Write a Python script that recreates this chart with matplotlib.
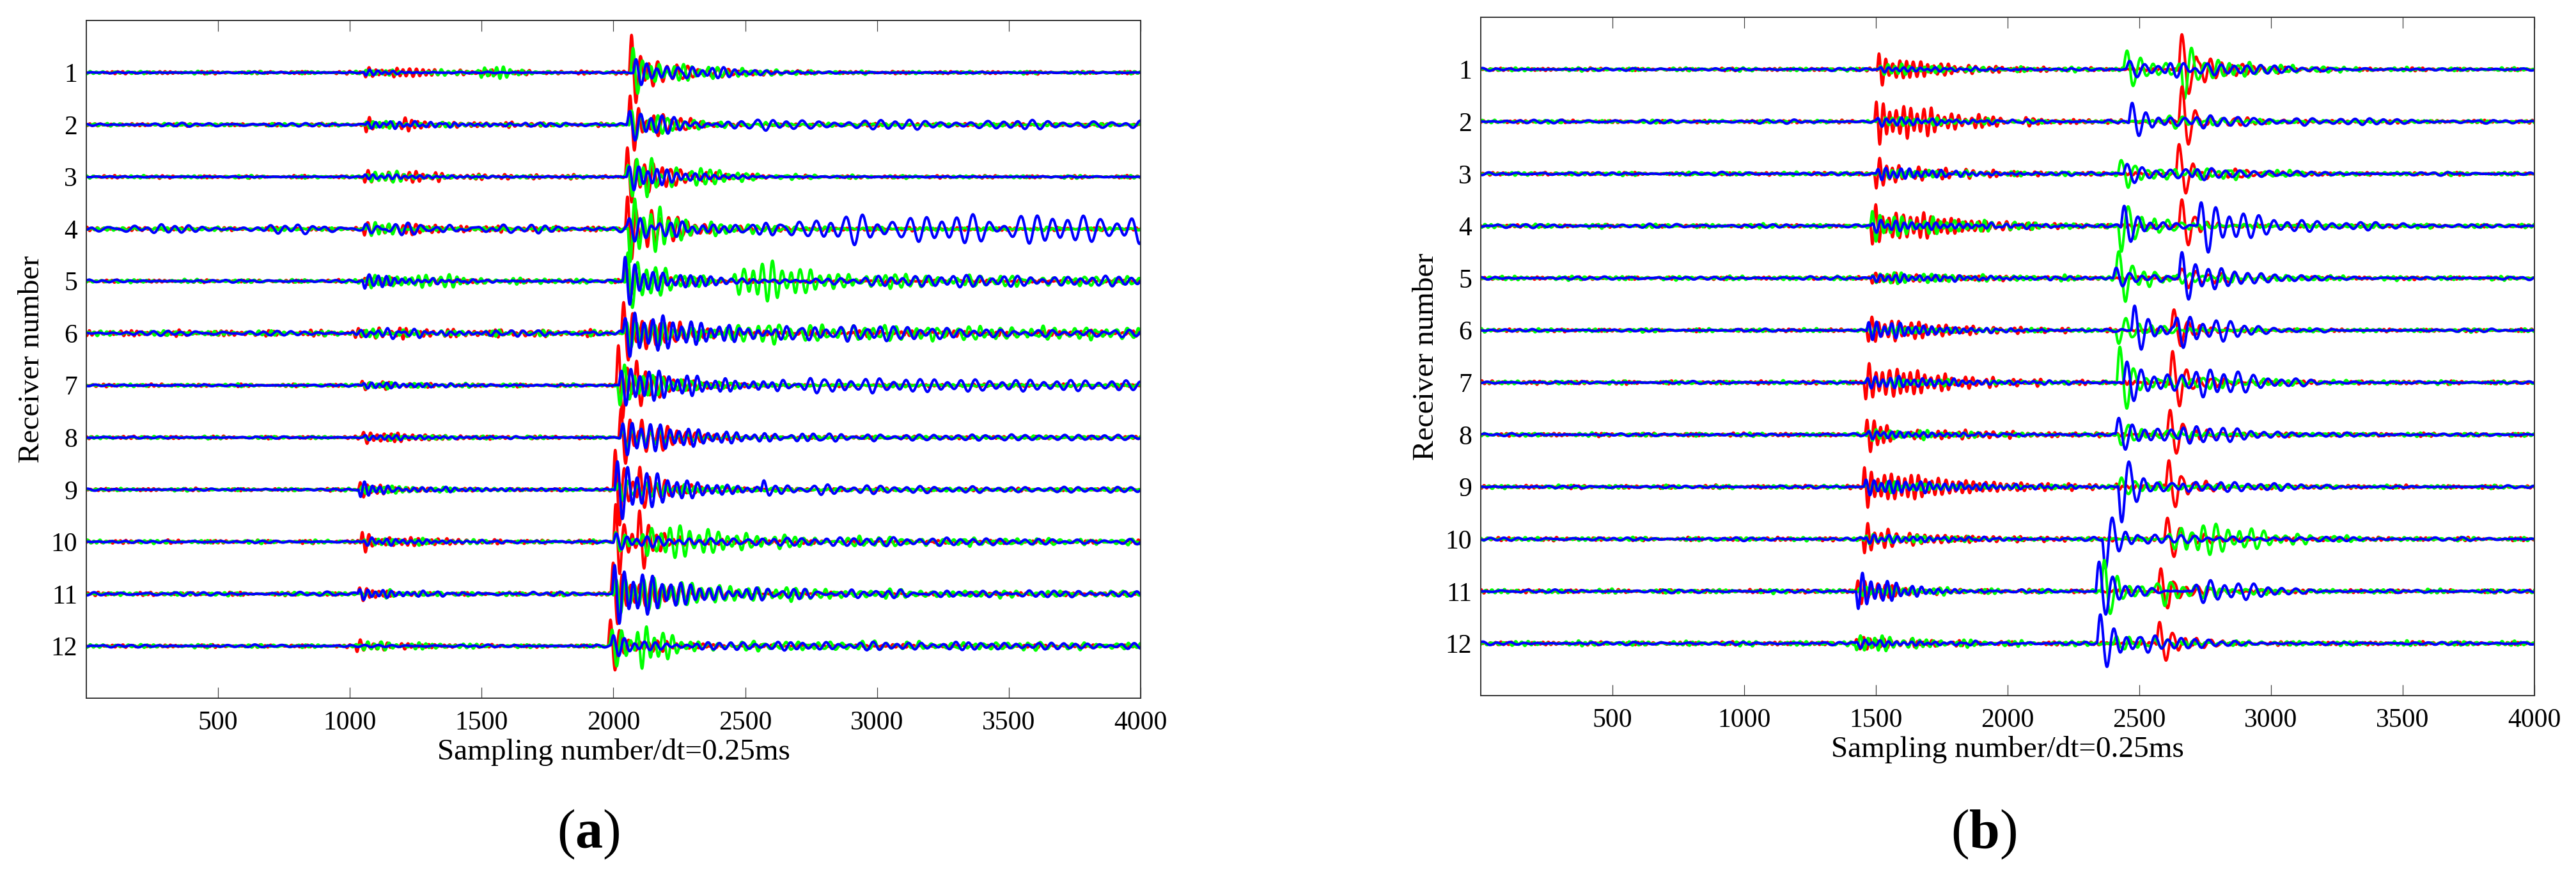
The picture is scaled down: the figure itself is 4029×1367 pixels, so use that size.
#!/usr/bin/env python3
"""
Three-component waveforms of 12 receivers, two shots (a) and (b)
"""

import numpy as np
import matplotlib
matplotlib.use('Agg')
import matplotlib.pyplot as plt

# samples along the record
n_samples = 4000
receivers = list(range(1, 13))
x_ticks = [500, 1000, 1500, 2000, 2500, 3000, 3500, 4000]

# wave events, one list per panel and component
# (receiver, onset sample, first-swing amplitude, period in samples, rise, decay)
a_red = [
    (1, 1053, -0.08, 26, 5, 120), (1, 1150, 0.05, 24, 30, 500), (1, 2060, 0.55, 34, 5, 45), (1, 2120, 0.14, 38, 20, 250),
    (2, 1055, -0.10, 26, 5, 60), (2, 1190, -0.10, 26, 10, 80), (2, 1250, 0.04, 24, 30, 500), (2, 2055, 0.45, 32, 5, 50), (2, 2140, 0.14, 36, 20, 150),
    (3, 1050, -0.10, 26, 5, 150), (3, 1150, 0.05, 24, 20, 600), (3, 2045, 0.45, 32, 5, 60), (3, 2110, 0.18, 34, 20, 180),
    (4, 1050, -0.10, 26, 5, 150), (4, 1150, 0.05, 24, 20, 600), (4, 2045, 0.50, 32, 5, 60), (4, 2100, 0.22, 34, 30, 150),
    (5, 1050, 0.05, 26, 5, 300), (5, 2040, 0.22, 34, 5, 120),
    (6, 1000, 0.06, 26, 30, 600), (6, 2030, 0.47, 34, 5, 60), (6, 2100, 0.18, 36, 20, 200),
    (7, 1040, 0.06, 26, 5, 200), (7, 2010, 0.60, 34, 5, 45), (7, 2080, 0.30, 34, 5, 60), (7, 2150, 0.12, 36, 20, 150),
    (8, 1045, 0.10, 26, 5, 80), (8, 1100, 0.05, 26, 20, 300), (8, 2020, 0.45, 34, 5, 70), (8, 2100, 0.35, 34, 5, 60), (8, 2160, 0.12, 36, 20, 150),
    (9, 1033, 0.12, 26, 5, 100), (9, 1998, 0.60, 34, 5, 60), (9, 2090, 0.30, 34, 5, 60), (9, 2150, 0.12, 34, 20, 150),
    (10, 1040, 0.15, 26, 5, 70), (10, 1150, 0.06, 26, 20, 300), (10, 2000, 0.55, 32, 5, 50), (10, 2090, 0.40, 34, 5, 50), (10, 2150, 0.12, 32, 20, 150),
    (11, 1030, 0.10, 26, 5, 100), (11, 1990, 0.48, 34, 5, 80), (11, 2100, 0.22, 36, 20, 180),
    (12, 1020, -0.08, 26, 5, 200), (12, 1980, 0.40, 34, 5, 70), (12, 2060, 0.15, 34, 20, 120),
]
a_green = [
    (1, 1053, 0.06, 26, 5, 200), (1, 1480, 0.10, 24, 60, 80), (1, 1150, 0.04, 24, 30, 600), (1, 2065, 0.35, 36, 5, 60), (1, 2130, 0.14, 32, 30, 280),
    (2, 1055, 0.05, 26, 5, 300), (2, 2060, 0.22, 34, 5, 180),
    (3, 1060, 0.10, 28, 20, 150), (3, 2045, 0.30, 34, 15, 150), (3, 2100, 0.38, 33, 30, 100), (3, 2250, 0.10, 36, 40, 250),
    (4, 1060, 0.10, 28, 10, 120), (4, 2055, -0.50, 34, 5, 80), (4, 2130, 0.32, 34, 30, 110), (4, 2250, 0.07, 36, 30, 350),
    (5, 1060, 0.10, 28, 20, 200), (5, 1250, 0.06, 30, 30, 500), (5, 2045, 0.43, 36, 5, 150), (5, 2450, 0.30, 36, 60, 250), (5, 2900, 0.08, 40, 50, 2000),
    (6, 1000, 0.05, 28, 30, 500), (6, 2040, 0.22, 36, 10, 250), (6, 2300, 0.12, 40, 50, 3000),
    (7, 1040, 0.05, 28, 10, 300), (7, 2015, -0.30, 36, 5, 180),
    (8, 1050, 0.04, 28, 10, 300), (8, 2025, 0.15, 36, 10, 200),
    (9, 1040, 0.06, 28, 10, 300), (9, 2010, 0.15, 36, 10, 250),
    (10, 1045, 0.05, 28, 10, 300), (10, 2000, 0.15, 34, 5, 100), (10, 2100, 0.24, 36, 80, 280), (10, 2600, 0.06, 40, 50, 2000),
    (11, 1035, 0.05, 28, 10, 300), (11, 2000, 0.28, 36, 10, 450), (11, 2600, 0.05, 40, 50, 2000),
    (12, 1030, 0.06, 28, 10, 300), (12, 1985, 0.30, 36, 10, 100), (12, 2080, 0.42, 34, 30, 90), (12, 2350, 0.06, 42, 50, 3000),
]
a_blue = [
    (1, 1053, -0.05, 30, 5, 100), (1, 2075, 0.20, 40, 5, 150), (1, 2250, 0.12, 40, 40, 180),
    (2, 1060, 0.05, 30, 5, 400), (2, 2050, 0.25, 42, 10, 150), (2, 2300, 0.06, 58, 50, 5000),
    (3, 1050, 0.04, 30, 5, 300), (3, 2050, 0.20, 36, 10, 180),
    (4, 1050, 0.06, 40, 5, 300), (4, 2050, 0.15, 40, 10, 300), (4, 2450, 0.20, 60, 250, 100000),
    (5, 1048, -0.12, 34, 5, 80), (5, 1100, 0.06, 30, 20, 200), (5, 2035, 0.37, 36, 5, 110), (5, 2200, 0.08, 40, 30, 300), (5, 2800, 0.08, 48, 100, 5000),
    (6, 1000, 0.05, 34, 30, 500), (6, 2035, 0.35, 36, 10, 300), (6, 2500, 0.10, 50, 50, 1500),
    (7, 1045, 0.05, 30, 10, 300), (7, 2020, 0.30, 36, 10, 300), (7, 2580, 0.10, 52, 50, 3000),
    (8, 1050, 0.04, 30, 10, 300), (8, 2025, 0.28, 36, 10, 300), (8, 2600, 0.05, 50, 50, 2000),
    (9, 1033, -0.12, 30, 5, 120), (9, 1150, 0.05, 30, 20, 400), (9, 2005, 0.45, 38, 5, 220), (9, 2560, 0.15, 40, 5, 40), (9, 2600, 0.06, 50, 50, 2000),
    (10, 1045, 0.05, 30, 10, 300), (10, 2000, 0.12, 40, 5, 250), (10, 2300, 0.06, 50, 50, 3000),
    (11, 1030, 0.08, 30, 5, 200), (11, 1995, 0.45, 36, 5, 250), (11, 2400, 0.05, 45, 50, 3000),
    (12, 1990, 0.15, 40, 5, 150), (12, 2300, 0.06, 45, 50, 3000),
]

b_red = [
    (1, 1505, 0.25, 26, 5, 60), (1, 1560, 0.12, 26, 20, 300), (1, 2650, 0.50, 52, 5, 60), (1, 2720, 0.14, 40, 20, 200),
    (2, 1495, 0.35, 26, 5, 120), (2, 1600, 0.14, 26, 20, 220), (2, 1850, 0.05, 30, 30, 400), (2, 2650, 0.50, 50, 5, 50), (2, 2720, 0.08, 45, 20, 200),
    (3, 1495, -0.25, 26, 5, 100), (3, 1550, 0.12, 26, 20, 300), (3, 2640, 0.43, 50, 5, 50), (3, 2720, 0.10, 45, 20, 150),
    (4, 1480, -0.30, 26, 5, 150), (4, 1600, 0.12, 26, 20, 350), (4, 2650, 0.38, 48, 5, 60),
    (5, 1480, -0.08, 26, 5, 400), (5, 2650, 0.15, 50, 5, 200),
    (6, 1465, -0.20, 26, 5, 150), (6, 1550, 0.10, 26, 20, 350), (6, 2620, 0.30, 50, 5, 80),
    (7, 1455, -0.30, 26, 5, 150), (7, 1550, 0.12, 26, 20, 350), (7, 2615, 0.42, 50, 5, 80),
    (8, 1460, 0.27, 26, 5, 120), (8, 1550, 0.12, 26, 20, 350), (8, 2605, 0.35, 48, 5, 80),
    (9, 1450, 0.32, 26, 5, 120), (9, 1550, 0.14, 26, 20, 450), (9, 2600, 0.37, 48, 5, 80),
    (10, 1450, -0.22, 26, 5, 150), (10, 1550, 0.10, 26, 20, 350), (10, 2595, 0.30, 48, 5, 100),
    (11, 1425, 0.20, 26, 5, 150), (11, 2570, 0.30, 48, 5, 100),
    (12, 1420, 0.10, 26, 5, 250), (12, 2565, 0.30, 48, 5, 100),
]
b_green = [
    (1, 1510, 0.08, 28, 10, 350), (1, 2440, 0.28, 50, 5, 120), (1, 2660, -0.40, 50, 5, 60), (1, 2750, 0.12, 40, 30, 250),
    (2, 1500, 0.08, 28, 10, 300), (2, 2600, 0.10, 50, 10, 200),
    (3, 1500, 0.08, 28, 10, 300), (3, 2420, 0.20, 50, 5, 150), (3, 2700, 0.10, 45, 20, 200),
    (4, 1480, 0.25, 28, 5, 150), (4, 1600, 0.10, 28, 20, 450), (4, 2420, -0.35, 50, 5, 120),
    (5, 1480, 0.08, 28, 10, 500), (5, 2410, 0.42, 50, 5, 80), (5, 2500, 0.10, 45, 20, 300),
    (6, 1465, 0.06, 28, 10, 300), (6, 2410, -0.20, 50, 5, 120),
    (7, 1460, 0.06, 28, 10, 300), (7, 2415, 0.50, 50, 5, 70), (7, 2600, 0.10, 45, 20, 300),
    (8, 1465, 0.08, 28, 10, 300), (8, 2420, -0.15, 50, 5, 150),
    (9, 1455, 0.08, 28, 10, 300), (9, 2420, 0.12, 50, 5, 150),
    (10, 1455, 0.06, 28, 10, 300), (10, 2600, 0.25, 45, 100, 250),
    (11, 1430, 0.08, 28, 10, 300), (11, 2355, 0.42, 48, 5, 80), (11, 2560, 0.20, 48, 20, 150),
    (12, 1420, -0.15, 28, 5, 250), (12, 2400, 0.10, 50, 10, 200),
]
b_blue = [
    (1, 1510, 0.04, 30, 10, 300), (1, 2450, 0.12, 55, 5, 300), (1, 2600, 0.12, 50, 30, 300),
    (2, 1500, 0.06, 30, 10, 300), (2, 2460, 0.27, 50, 5, 120), (2, 2700, 0.10, 55, 30, 400),
    (3, 1500, 0.10, 30, 10, 250), (3, 2440, 0.15, 55, 5, 200), (3, 2700, 0.10, 55, 20, 200),
    (4, 1480, 0.08, 30, 10, 350), (4, 2430, 0.30, 50, 5, 100), (4, 2720, 0.38, 55, 10, 250),
    (5, 1480, 0.06, 30, 10, 400), (5, 2400, 0.15, 50, 5, 100), (5, 2650, 0.35, 50, 5, 100), (5, 2750, 0.08, 50, 20, 300),
    (6, 1465, 0.15, 30, 5, 250), (6, 2470, 0.34, 50, 5, 80), (6, 2630, 0.25, 50, 20, 120), (6, 2780, 0.08, 55, 20, 300),
    (7, 1460, 0.10, 30, 10, 350), (7, 2440, 0.30, 52, 5, 200), (7, 2700, 0.20, 55, 40, 200),
    (8, 1465, 0.06, 30, 10, 300), (8, 2410, 0.25, 50, 5, 150), (8, 2650, 0.12, 52, 20, 250),
    (9, 1455, 0.12, 30, 5, 400), (9, 2420, -0.50, 55, 5, 90), (9, 2650, 0.10, 50, 20, 300),
    (10, 1455, 0.06, 30, 10, 300), (10, 2360, -0.43, 50, 5, 80), (10, 2500, 0.10, 50, 20, 300),
    (11, 1425, -0.28, 32, 5, 150), (11, 2335, 0.42, 50, 5, 100), (11, 2700, 0.20, 55, 50, 150),
    (12, 1420, 0.05, 30, 10, 300), (12, 2340, 0.40, 50, 5, 100), (12, 2500, 0.10, 50, 20, 200),
]

# background wiggle level of each receiver, per component
a_noise_red = [0.025, 0.025, 0.025, 0.03, 0.025, 0.05, 0.025, 0.025, 0.025, 0.03, 0.03, 0.025]
a_noise_green = [0.025, 0.025, 0.025, 0.03, 0.03, 0.04, 0.025, 0.025, 0.025, 0.03, 0.03, 0.03]
a_noise_blue = [0.01, 0.03, 0.01, 0.07, 0.02, 0.04, 0.015, 0.015, 0.015, 0.02, 0.03, 0.02]
b_noise_red = [0.025, 0.025, 0.025, 0.025, 0.025, 0.025, 0.03, 0.03, 0.03, 0.03, 0.03, 0.03]
b_noise_green = [0.03, 0.025, 0.03, 0.035, 0.035, 0.03, 0.03, 0.03, 0.03, 0.03, 0.035, 0.04]
b_noise_blue = [0.02, 0.03, 0.025, 0.03, 0.025, 0.02, 0.02, 0.02, 0.02, 0.025, 0.025, 0.025]
noise_period = {'r': 20, 'g': 24, 'b': 52}


def trace_signal(t, events, rec, noise_amp, period, phase):
    """Sum of the background wiggle and the decaying wave packets of one receiver"""
    w = 2 * np.pi / period
    sig = noise_amp * (np.sin(w * t + phase) * (0.6 + 0.4 * np.sin(w * t / 8.7 + 2 * phase))
                       + 0.5 * np.sin(w * t / 1.9 + 3 * phase) * (0.5 + 0.5 * np.cos(w * t / 13.1 + phase)))
    for (k, t0, amp, per, rise, tau) in events:
        if k != rec:
            continue
        s = np.clip(t - t0, 0, None)
        env = (1 - np.exp(-s / rise)) * np.exp(-s / tau)
        env = env / env.max()
        car = np.sin(2 * np.pi * s / per) + 0.35 * np.sin(2 * np.pi * s / (1.37 * per) + 0.6)
        sig = sig + amp * env * car
    return sig


def draw_panel(ax, red, green, blue, nr, ng, nb, seed_shift):
    t = np.arange(1, n_samples + 1)
    for rec in receivers:
        i = rec - 1
        for comp, events, noise, color in (('r', red, nr, '#ff0000'),
                                           ('g', green, ng, '#00ff00'),
                                           ('b', blue, nb, '#0000ff')):
            ph = 1.7 * rec + seed_shift + {'r': 0.0, 'g': 2.1, 'b': 4.3}[comp]
            y = trace_signal(t, events, rec, noise[i], noise_period[comp], ph)
            ax.plot(t, rec - y, color=color, lw=2.9)

    ax.set_xlim(1, n_samples)
    ax.set_ylim(13, 0)
    ax.set_xticks(x_ticks)
    ax.set_yticks(receivers)
    ax.tick_params(axis='both', direction='in', length=12, width=0.9, color='#444444',
                   labelsize=30, top=True, right=True)
    ax.tick_params(axis='x', pad=14)
    ax.tick_params(axis='y', pad=10)
    for sp in ax.spines.values():
        sp.set_linewidth(1.4)
        sp.set_color('#333333')
    ax.set_xlabel('Sampling number/dt=0.25ms', fontsize=34, labelpad=4)
    ax.set_ylabel('Receiver number', fontsize=34, labelpad=6)


def main():
    plt.rcParams['font.family'] = ['Liberation Serif', 'DejaVu Serif']
    plt.rcParams['mathtext.fontset'] = 'custom'
    plt.rcParams['mathtext.rm'] = 'Liberation Serif'
    plt.rcParams['mathtext.bf'] = 'Liberation Serif:bold'

    fig = plt.figure(figsize=(40.30, 13.67), dpi=100)
    ax1 = fig.add_axes([0.0335, 0.2012, 0.4092, 0.7754])
    ax2 = fig.add_axes([0.5747, 0.2041, 0.4089, 0.7762])

    draw_panel(ax1, a_red, a_green, a_blue, a_noise_red, a_noise_green, a_noise_blue, 0.0)
    draw_panel(ax2, b_red, b_green, b_blue, b_noise_red, b_noise_green, b_noise_blue, 0.9)

    fig.text(920 / 4030, 1 - 1305 / 1367, r'($\mathbf{a}$)', fontsize=62, ha='center', va='center')
    fig.text(3103 / 4030, 1 - 1305 / 1367, r'($\mathbf{b}$)', fontsize=62, ha='center', va='center')

    fig.savefig('out.png', dpi=100, facecolor='white')


main()
